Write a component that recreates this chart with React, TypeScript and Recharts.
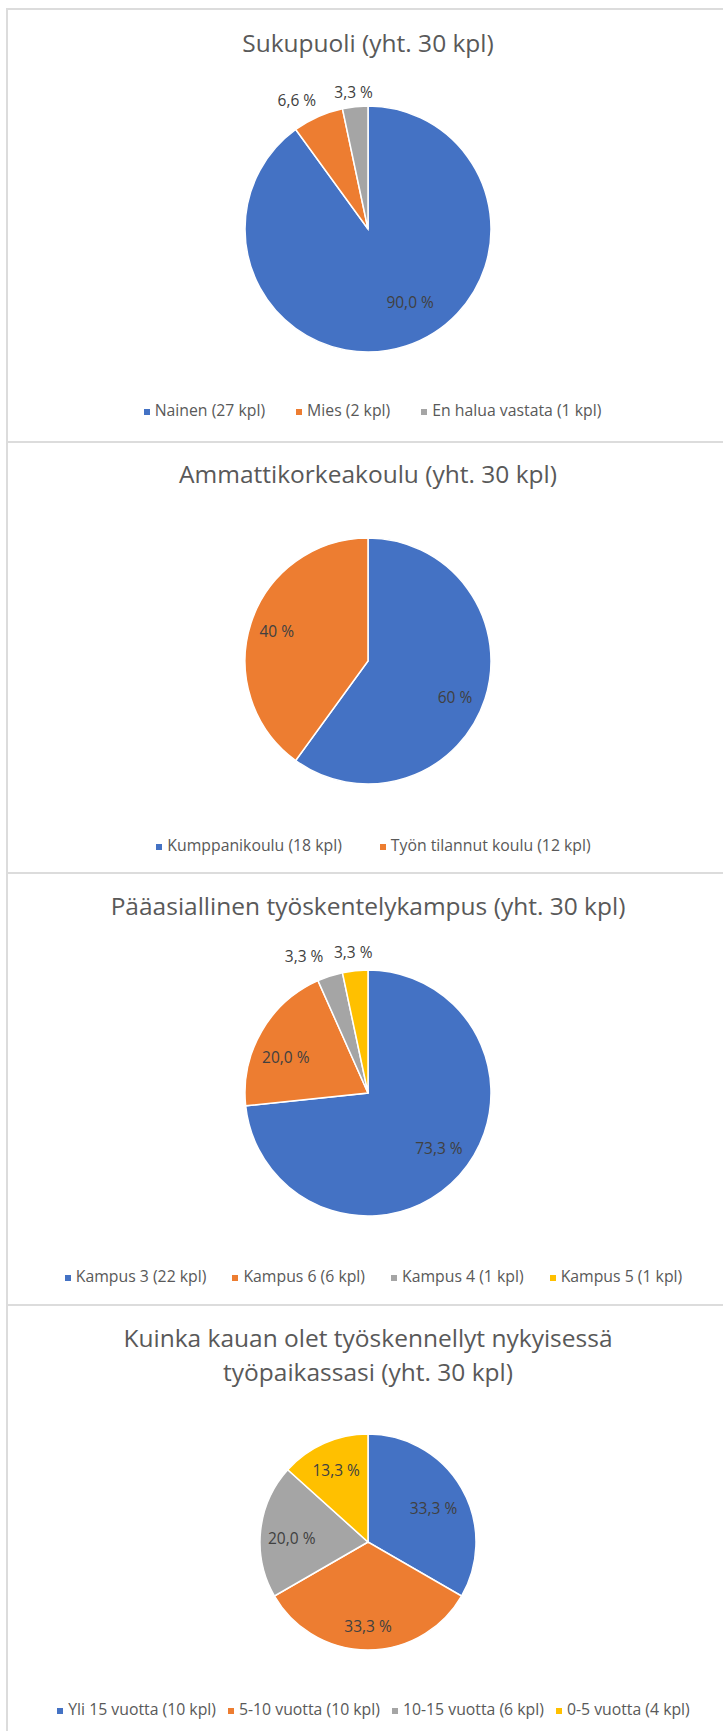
import React from "react";
import { PieChart, Pie, Cell, Legend } from "recharts";

const COLORS = ["#4472C4", "#ED7D31", "#A5A5A5", "#FFC000"];
const FONT = "'Open Sans', sans-serif";

// Sukupuoli
const genderTitle = ["Sukupuoli (yht. 30 kpl)"];
const genderNames = ["Nainen (27 kpl)", "Mies (2 kpl)", "En halua vastata (1 kpl)"];
const genderCounts = [27, 2, 1];
const genderLabels = ["90,0 %", "6,6 %", "3,3 %"];

// Ammattikorkeakoulu
const schoolTitle = ["Ammattikorkeakoulu (yht. 30 kpl)"];
const schoolNames = ["Kumppanikoulu (18 kpl)", "Työn tilannut koulu (12 kpl)"];
const schoolCounts = [18, 12];
const schoolLabels = ["60 %", "40 %"];

// Pääasiallinen työskentelykampus
const campusTitle = ["Pääasiallinen työskentelykampus (yht. 30 kpl)"];
const campusNames = ["Kampus 3 (22 kpl)", "Kampus 6 (6 kpl)", "Kampus 4 (1 kpl)", "Kampus 5 (1 kpl)"];
const campusCounts = [22, 6, 1, 1];
const campusLabels = ["73,3 %", "20,0 %", "3,3 %", "3,3 %"];

// Työskentelyaika nykyisessä työpaikassa
const tenureTitle = ["Kuinka kauan olet työskennellyt nykyisessä", "työpaikassasi (yht. 30 kpl)"];
const tenureNames = ["Yli 15 vuotta (10 kpl)", "5-10 vuotta (10 kpl)", "10-15 vuotta (6 kpl)", "0-5 vuotta (4 kpl)"];
const tenureCounts = [10, 10, 6, 4];
const tenureLabels = ["33,3 %", "33,3 %", "20,0 %", "13,3 %"];

type Layout = {
  top: number;
  height: number;
  cy: number;
  r: number;
  titleY: number[];
  legendY: number;
  legendGap: number;
  legendShift: number;
  // [radius factor, angle nudge in degrees] per slice label
  place: [number, number][];
};

type PanelProps = {
  title: string[];
  names: string[];
  counts: number[];
  labels: string[];
  layout: Layout;
};

function PiePanel({ title, names, counts, labels, layout }: PanelProps) {
  const data = names.map((name, i) => ({ name, value: counts[i] }));

  const renderLabel = (props: any) => {
    const { cx, cy, midAngle, outerRadius, index } = props;
    const [f, nudge] = layout.place[index];
    const a = ((midAngle + nudge) * Math.PI) / 180;
    const x = cx + outerRadius * f * Math.cos(a);
    const y = cy - outerRadius * f * Math.sin(a);
    return (
      <text
        x={x}
        y={y}
        textAnchor="middle"
        dominantBaseline="central"
        fill="#404040"
        fontSize={15.5}
        fontFamily={FONT}
      >
        {labels[index]}
      </text>
    );
  };

  // keep legend entries in series order (recharts sorts them by name)
  const renderLegend = ({ payload }: any) => {
    const items = names
      .map((n) => (payload ?? []).find((p: any) => p.value === n))
      .filter(Boolean);
    return (
      <div
        style={{
          display: "flex",
          justifyContent: "center",
          paddingLeft: layout.legendShift,
          columnGap: layout.legendGap,
          fontFamily: FONT,
          fontSize: 15.8,
          lineHeight: "20px",
          color: "#595959",
          whiteSpace: "nowrap",
        }}
      >
        {items.map((p: any) => {
          const i = names.indexOf(p.value);
          return (
            <div key={p.value} style={{ display: "flex", alignItems: "flex-start" }}>
              <span
                style={{
                  display: "inline-block",
                  width: 6,
                  height: 6,
                  marginTop: 9,
                  marginRight: 5,
                  background: COLORS[i],
                }}
              />
              <span>{p.value}</span>
            </div>
          );
        })}
      </div>
    );
  };

  return (
    <div style={{ position: "absolute", left: 0, top: layout.top, width: 723, height: layout.height }}>
      <PieChart width={723} height={layout.height} margin={{ top: 0, right: 0, bottom: 0, left: 0 }}>
        <Pie
          data={data}
          dataKey="value"
          nameKey="name"
          cx={368}
          cy={layout.cy}
          outerRadius={layout.r}
          startAngle={90}
          endAngle={-270}
          stroke="#ffffff"
          strokeWidth={1.5}
          label={renderLabel}
          labelLine={false}
          isAnimationActive={false}
        >
          {data.map((d, i) => (
            <Cell key={d.name} fill={COLORS[i]} />
          ))}
        </Pie>
        <Legend
          verticalAlign="bottom"
          wrapperStyle={{ top: layout.legendY - 16, bottom: "auto", left: 0, width: 723 }}
          content={renderLegend}
        />
      </PieChart>
      <svg
        width={723}
        height={layout.height}
        style={{ position: "absolute", left: 0, top: 0, pointerEvents: "none" }}
      >
        {title.map((t, i) => (
          <text
            key={i}
            x={368}
            y={layout.titleY[i]}
            textAnchor="middle"
            fill="#595959"
            fontSize={24.5}
            fontFamily={FONT}
          >
            {t}
          </text>
        ))}
      </svg>
    </div>
  );
}

const line = "#dcdcdc";

export default function App() {
  return (
    <div
      style={{
        position: "absolute",
        left: 0,
        top: 0,
        width: 723,
        height: 1731,
        background: "#ffffff",
        overflow: "hidden",
      }}
    >
      <div style={{ position: "absolute", left: 6, top: 8, width: 2, height: 1731, background: line }} />
      {[8, 441, 872, 1304].map((y) => (
        <div key={y} style={{ position: "absolute", left: 6, top: y, width: 717, height: 2, background: line }} />
      ))}
      <PiePanel
        title={genderTitle}
        names={genderNames}
        counts={genderCounts}
        labels={genderLabels}
        layout={{
          top: 0,
          height: 441,
          cy: 229,
          r: 123,
          titleY: [52],
          legendY: 416,
          legendGap: 31,
          legendShift: 22,
          place: [[0.685, 12], [1.2, 4.8], [1.12, 0]],
        }}
      />
      <PiePanel
        title={schoolTitle}
        names={schoolNames}
        counts={schoolCounts}
        labels={schoolLabels}
        layout={{
          top: 442,
          height: 430,
          cy: 219,
          r: 123,
          titleY: [41],
          legendY: 409,
          legendGap: 38,
          legendShift: 24,
          place: [[0.765, -4.5], [0.78, 0]],
        }}
      />
      <PiePanel
        title={campusTitle}
        names={campusNames}
        counts={campusCounts}
        labels={campusLabels}
        layout={{
          top: 873,
          height: 431,
          cy: 220,
          r: 123,
          titleY: [42],
          legendY: 409,
          legendGap: 26,
          legendShift: 24,
          place: [[0.73, 4.2], [0.73, 6.3], [1.23, 7], [1.15, 0]],
        }}
      />
      <PiePanel
        title={tenureTitle}
        names={tenureNames}
        counts={tenureCounts}
        labels={tenureLabels}
        layout={{
          top: 1305,
          height: 426,
          cy: 237,
          r: 108,
          titleY: [42, 76],
          legendY: 410,
          legendGap: 12,
          legendShift: 24,
          place: [[0.683, -2.6], [0.78, 0], [0.707, 3.2], [0.725, 0]],
        }}
      />
    </div>
  );
}
